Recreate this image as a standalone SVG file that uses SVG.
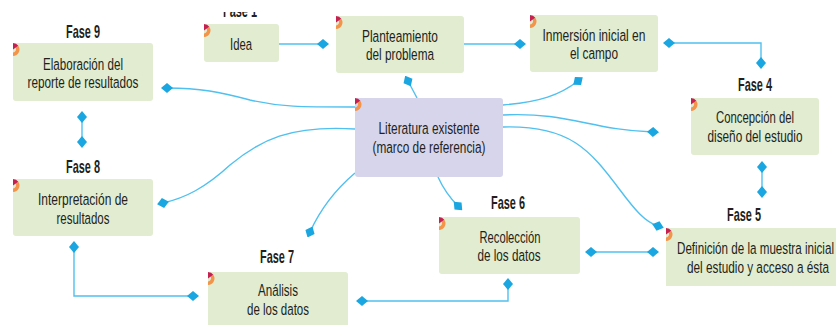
<svg xmlns="http://www.w3.org/2000/svg" xmlns:xlink="http://www.w3.org/1999/xlink" width="836" height="325" viewBox="0 0 836 325">
<style>
.box{fill:#e1ecd0}
.lit{fill:#d7d5eb}
text{font-family:"Liberation Sans",Arial,sans-serif;fill:#231f20;font-size:16.5px;text-anchor:middle;transform:scale(0.69,1)}
text.fase{font-weight:bold;font-size:18px;transform:scale(0.62,1)}
.conn{fill:none;stroke:#4fc0ef;stroke-width:1.4}
.end{marker-end:url(#dia)}
.both{marker-start:url(#dia);marker-end:url(#dia)}
</style>
<defs>
<marker id="dia" viewBox="0 -6 12 12" refX="6" refY="0" markerWidth="12" markerHeight="12" markerUnits="userSpaceOnUse" orient="auto-start-reverse">
<path d="M0,0 L6,-5 L12,0 L6,5 Z" fill="#1aa6e0"/>
</marker>
<g id="tag">
<path d="M5.3,2.8 A6.5,6.5 0 0 1 0,13 L0,9.5 A3.3,3.3 0 0 0 2.7,4.6 Z" fill="#f3944a"/>
<path d="M0,6.5 L0,0 A6.5,6.5 0 0 1 5.3,2.8 Z" fill="#c5204f"/>
</g>
<clipPath id="clipF1"><rect x="180" y="12" width="120" height="20"/></clipPath>
</defs>
<rect width="836" height="325" fill="#ffffff"/>

<g id="connectors">
<path class="conn end" d="M279,44 L323,44"/>
<path class="conn end" d="M464,44 L520,44"/>
<path class="conn both" d="M669,43 L761,43 L761,63"/>
<path class="conn both" d="M762,167 L762,192"/>
<path class="conn both" d="M82,117 L82,142"/>
<path class="conn both" d="M74,247 L74,296 L193,296"/>
<path class="conn both" d="M362,301 L508,301 L508,284"/>
<path class="conn both" d="M591,252 L653,252"/>
<path class="conn end" d="M417,98 L408,81"/>
<path class="conn end" d="M503,105 C540,102 560,95 578,81"/>
<path class="conn end" d="M503,115 C570,112 590,130 653,132"/>
<path class="conn end" d="M503,127 C570,125 590,150 620,190 C635,210 645,222 658,226"/>
<path class="conn end" d="M355,107 C300,107 280,107 250,100 C220,92 200,88 167,88"/>
<path class="conn end" d="M355,129 C290,125 260,140 230,165 C205,188 185,198 163,203"/>
<path class="conn end" d="M355,173 C335,190 320,210 310,232"/>
<path class="conn end" d="M438,177 C443,188 450,198 458,206"/>
</g>

<g id="fase1">
<g clip-path="url(#clipF1)"><text class="fase" x="387.1" y="17" textLength="54.84" lengthAdjust="spacingAndGlyphs">Fase 1</text></g>
<rect class="box" x="204" y="24" width="75" height="38" rx="3"/>
<use xlink:href="#tag" x="204" y="24"/>
<text x="349.28" y="50" textLength="31.88" lengthAdjust="spacingAndGlyphs">Idea</text>
</g>

<g id="fase2">
<rect class="box" x="336" y="16" width="128" height="57" rx="3"/>
<use xlink:href="#tag" x="336" y="16"/>
<text x="579.71" y="42" textLength="110.14" lengthAdjust="spacingAndGlyphs">Planteamiento</text>
<text x="579.71" y="60.5" textLength="98.55" lengthAdjust="spacingAndGlyphs">del problema</text>
</g>

<g id="fase3">
<rect class="box" x="530" y="15" width="128" height="57" rx="3"/>
<use xlink:href="#tag" x="530" y="15"/>
<text x="860.87" y="41" textLength="149.28" lengthAdjust="spacingAndGlyphs">Inmersión inicial en</text>
<text x="860.87" y="59.5" textLength="69.57" lengthAdjust="spacingAndGlyphs">el campo</text>
</g>

<g id="literatura">
<rect class="lit" x="355" y="98" width="148" height="79" rx="3"/>
<use xlink:href="#tag" x="355" y="98"/>
<text x="621.74" y="134.5" textLength="146.38" lengthAdjust="spacingAndGlyphs">Literatura existente</text>
<text x="621.74" y="153" textLength="163.77" lengthAdjust="spacingAndGlyphs">(marco de referencia)</text>
</g>

<g id="fase4">
<text class="fase" x="1217.74" y="91" textLength="54.84" lengthAdjust="spacingAndGlyphs">Fase 4</text>
<rect class="box" x="691" y="98" width="128" height="57" rx="3"/>
<use xlink:href="#tag" x="691" y="98"/>
<text x="1094.2" y="123" textLength="113.04" lengthAdjust="spacingAndGlyphs">Concepción del</text>
<text x="1094.2" y="142" textLength="137.68" lengthAdjust="spacingAndGlyphs">diseño del estudio</text>
</g>

<g id="fase5">
<text class="fase" x="1200" y="221" textLength="54.84" lengthAdjust="spacingAndGlyphs">Fase 5</text>
<rect class="box" x="666" y="228" width="170" height="58"/>
<use xlink:href="#tag" x="666" y="228"/>
<text x="1094.93" y="254" textLength="227.54" lengthAdjust="spacingAndGlyphs">Definición de la muestra inicial</text>
<text x="1098.55" y="273" textLength="205.8" lengthAdjust="spacingAndGlyphs">del estudio y acceso a ésta</text>
</g>

<g id="fase6">
<text class="fase" x="819.35" y="209" textLength="54.84" lengthAdjust="spacingAndGlyphs">Fase 6</text>
<rect class="box" x="439" y="217" width="141" height="57" rx="3"/>
<use xlink:href="#tag" x="439" y="217"/>
<text x="739.13" y="243" textLength="88.41" lengthAdjust="spacingAndGlyphs">Recolección</text>
<text x="737.68" y="261.5" textLength="91.3" lengthAdjust="spacingAndGlyphs">de los datos</text>
</g>

<g id="fase7">
<text class="fase" x="446.77" y="263" textLength="54.84" lengthAdjust="spacingAndGlyphs">Fase 7</text>
<rect class="box" x="208" y="272" width="140" height="60" rx="3"/>
<use xlink:href="#tag" x="208" y="272"/>
<text x="402.9" y="296.5" textLength="57.97" lengthAdjust="spacingAndGlyphs">Análisis</text>
<text x="402.9" y="315" textLength="89.86" lengthAdjust="spacingAndGlyphs">de los datos</text>
</g>

<g id="fase8">
<text class="fase" x="133.87" y="173" textLength="54.84" lengthAdjust="spacingAndGlyphs">Fase 8</text>
<rect class="box" x="13" y="179" width="140" height="57" rx="3"/>
<use xlink:href="#tag" x="13" y="179"/>
<text x="120.29" y="205" textLength="130.43" lengthAdjust="spacingAndGlyphs">Interpretación de</text>
<text x="120.29" y="224" textLength="76.81" lengthAdjust="spacingAndGlyphs">resultados</text>
</g>

<g id="fase9">
<text class="fase" x="133.87" y="38" textLength="54.84" lengthAdjust="spacingAndGlyphs">Fase 9</text>
<rect class="box" x="13" y="43" width="140" height="58" rx="3"/>
<use xlink:href="#tag" x="13" y="43"/>
<text x="120.29" y="70" textLength="115.94" lengthAdjust="spacingAndGlyphs">Elaboración del</text>
<text x="120.29" y="88.5" textLength="160.87" lengthAdjust="spacingAndGlyphs">reporte de resultados</text>
</g>
</svg>
